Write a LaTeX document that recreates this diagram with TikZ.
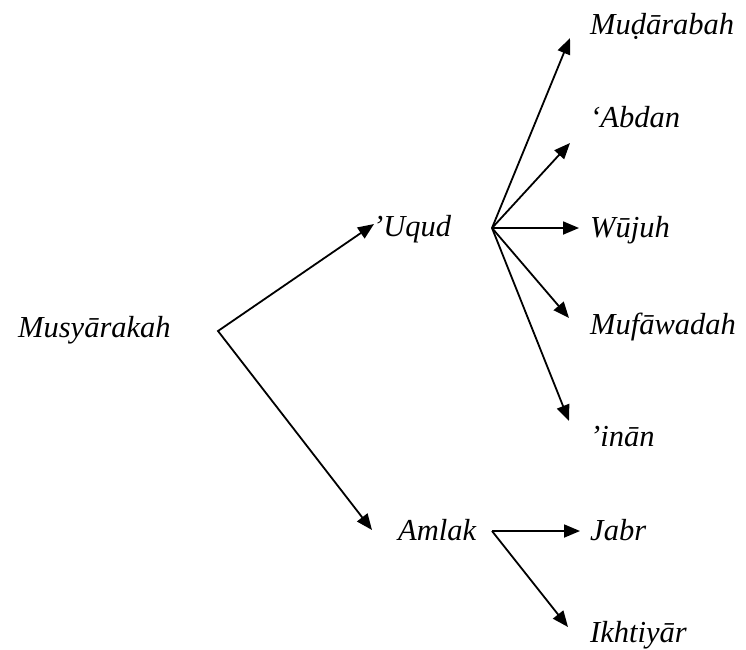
\documentclass[tikz,border=0pt]{standalone}
\usepackage{fontspec}
\setmainfont{Liberation Serif}
\usetikzlibrary{arrows.meta}
\begin{document}
\begin{tikzpicture}[x=1pt,y=-1pt,
  lbl/.style={anchor=base west,inner sep=0pt,font=\fontsize{30.5}{36}\selectfont\itshape},
  arr/.style={line width=1.8pt,-{Triangle[length=16pt,width=13pt]}},
  darr/.style={line width=1.8pt,{Triangle[length=16pt,width=13pt]}-{Triangle[length=16pt,width=13pt]}}]
\useasboundingbox (0,0) rectangle (746,649);
% labels
\node[lbl] (mus) at (18,337) {Musyārakah};
\node[lbl] (uqud) at (373,236) {’Uqud};
\node[lbl] (amlak) at (398,540) {Amlak};
\node[lbl] (mud) at (590,34) {Muḍārabah};
\node[lbl] (abd) at (590,127) {‘Abdan};
\node[lbl] (wuj) at (590,237) {Wūjuh};
\node[lbl] (muf) at (590,334) {Mufāwadah};
\node[lbl] (inan) at (590,446) {’inān};
\node[lbl] (jabr) at (590,540) {Jabr};
\node[lbl] (ikh) at (590,642) {Ikhtiyār};
% junctions and tips
\coordinate (f0) at (218,331);
\coordinate (tu) at (374,224);
\coordinate (ta) at (372,530);
\coordinate (f1) at (492,228);
\coordinate (t1) at (570,38);
\coordinate (t2) at (570,143);
\coordinate (t3) at (579,228);
\coordinate (t4) at (569,318);
\coordinate (t5) at (569,421);
\coordinate (f2) at (492,531);
\coordinate (t6) at (580,531);
\coordinate (t7) at (568,627);
% connectors
\draw[darr] (tu) -- (f0) -- (ta);
\draw[arr] (f1) -- (t1);
\draw[arr] (f1) -- (t2);
\draw[arr] (f1) -- (t3);
\draw[arr] (f1) -- (t4);
\draw[arr] (f1) -- (t5);
\draw[arr] (f2) -- (t6);
\draw[arr] (f2) -- (t7);
\end{tikzpicture}
\end{document}
